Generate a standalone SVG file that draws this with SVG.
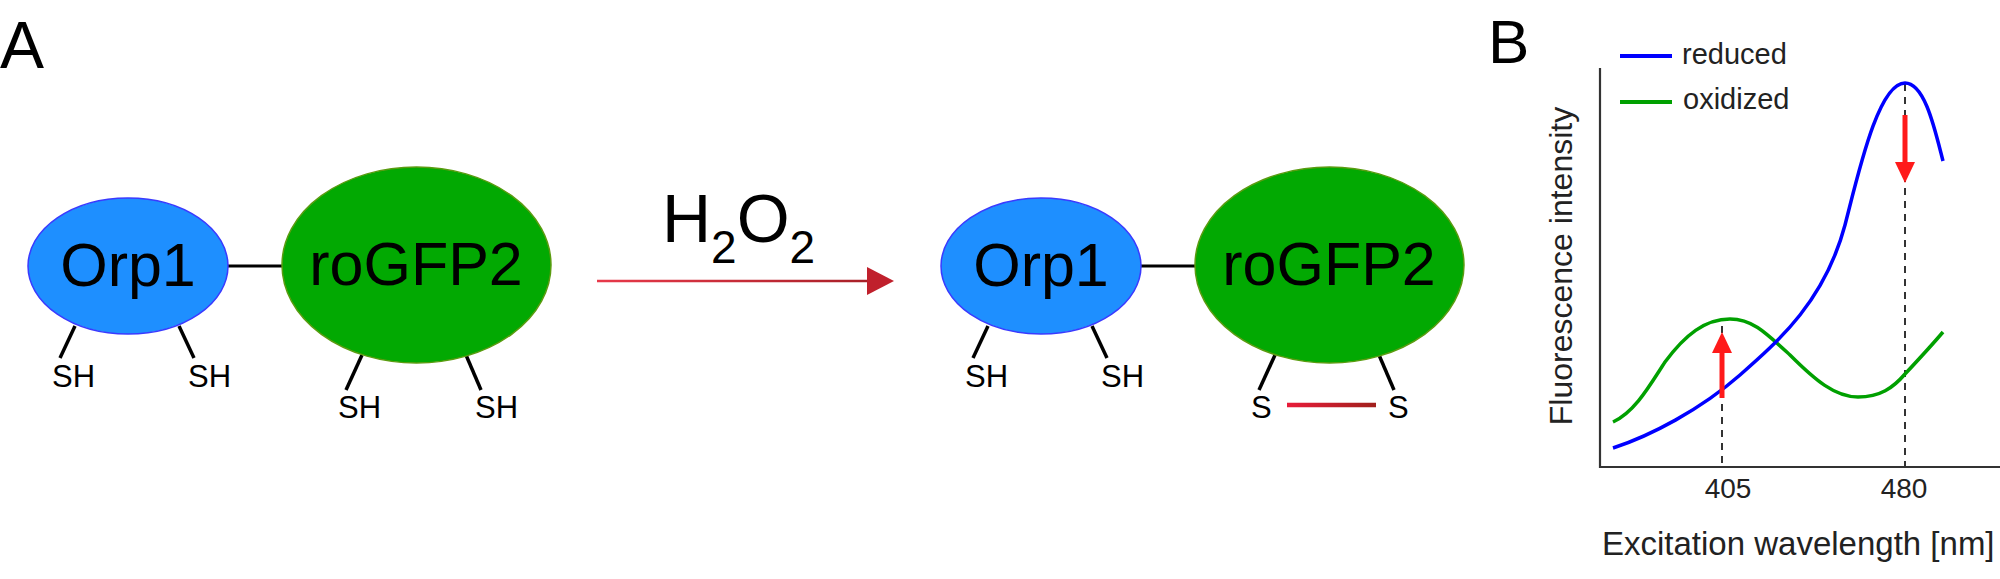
<svg xmlns="http://www.w3.org/2000/svg" width="2000" height="579" viewBox="0 0 2000 579">
<defs>
<style>
text{font-family:"Liberation Sans",Arial,sans-serif;fill:#000}
.orp{fill:#1e8fff;stroke:#3a3aff;stroke-width:1.5}
.gfp{fill:#02a902;stroke:#5a9c10;stroke-width:1.5}
.big{font-size:61px;text-anchor:middle}
.sh{font-size:31px}
.stub{stroke:#000;stroke-width:3.5;stroke-linecap:butt}
.link{stroke:#000;stroke-width:3}
.axis{stroke:#333;stroke-width:2.2;fill:none}
.dash{stroke:#333;stroke-width:2;stroke-dasharray:7,6;fill:none}
.curve{fill:none;stroke-width:3.5}
.red{stroke:#ff1a1a;stroke-width:5;marker-end:url(#redhead)}
.lab{fill:#222}
</style>
<linearGradient id="rxn" gradientUnits="userSpaceOnUse" x1="597" y1="0" x2="867" y2="0">
<stop offset="0" stop-color="#e8394a"/><stop offset="1" stop-color="#a82028"/>
</linearGradient>
<linearGradient id="ss" gradientUnits="userSpaceOnUse" x1="1287" y1="0" x2="1376" y2="0">
<stop offset="0" stop-color="#e81c3a"/><stop offset="1" stop-color="#a0201c"/>
</linearGradient>
<marker id="rxnhead" markerUnits="userSpaceOnUse" markerWidth="28" markerHeight="28" refX="0" refY="14" orient="auto" viewBox="0 0 28 28">
<path d="M0,0 L27,14 L0,28 z" fill="#c0202c"/>
</marker>
<marker id="redhead" markerUnits="userSpaceOnUse" markerWidth="21" markerHeight="20" refX="0" refY="10" orient="auto" viewBox="0 0 21 20">
<path d="M0,0 L21,10 L0,20 z" fill="#ff1a1a"/>
</marker>
</defs>
<rect width="2000" height="579" fill="#fff"/>

<text id="labelA" x="0" y="68" font-size="66">A</text>
<text id="labelB" x="1488" y="63" font-size="62">B</text>

<g id="connectors">
<line class="link" x1="228" y1="266" x2="283" y2="266"/>
<line class="link" x1="1140" y1="266" x2="1196" y2="266"/>
<line x1="597" y1="281" x2="867" y2="281" stroke="url(#rxn)" stroke-width="2.5" marker-end="url(#rxnhead)"/>
<line x1="1287" y1="405" x2="1376" y2="405" stroke="url(#ss)" stroke-width="4.5"/>
</g>

<g id="reagent">
<text x="662" y="242" font-size="68">H<tspan font-size="46" dy="21">2</tspan><tspan dy="-21">O</tspan><tspan font-size="46" dy="21">2</tspan></text>
</g>

<g id="orp1-reduced">
<line class="stub" x1="75" y1="326" x2="60" y2="358"/>
<line class="stub" x1="179" y1="326" x2="194" y2="358"/>
<ellipse class="orp" cx="128" cy="266" rx="100" ry="68"/>
<text class="big" x="128" y="286" font-size="60">Orp1</text>
<text class="sh" x="52" y="387">SH</text>
<text class="sh" x="188" y="387">SH</text>
</g>

<g id="rogfp2-reduced">
<line class="stub" x1="362" y1="355" x2="346" y2="390"/>
<line class="stub" x1="466" y1="355" x2="481" y2="390"/>
<ellipse class="gfp" cx="416.5" cy="265" rx="134.5" ry="98"/>
<text class="big" x="416" y="285" font-size="62">roGFP2</text>
<text class="sh" x="338" y="418">SH</text>
<text class="sh" x="475" y="418">SH</text>
</g>

<g id="orp1-oxidized">
<line class="stub" x1="988" y1="326" x2="973" y2="358"/>
<line class="stub" x1="1092" y1="326" x2="1107" y2="358"/>
<ellipse class="orp" cx="1041" cy="266" rx="100" ry="68"/>
<text class="big" x="1041" y="286" font-size="60">Orp1</text>
<text class="sh" x="965" y="387">SH</text>
<text class="sh" x="1101" y="387">SH</text>
</g>

<g id="rogfp2-oxidized">
<line class="stub" x1="1275" y1="355" x2="1259" y2="390"/>
<line class="stub" x1="1379" y1="355" x2="1394" y2="390"/>
<ellipse class="gfp" cx="1329.5" cy="265" rx="134.5" ry="98"/>
<text class="big" x="1329" y="285" font-size="62">roGFP2</text>
<text class="sh" x="1251" y="418">S</text>
<text class="sh" x="1388" y="418">S</text>
</g>

<g id="chart">
<path class="axis" d="M1600,68 L1600,467 L2000,467"/>
<line class="dash" x1="1722" y1="326" x2="1722" y2="467"/>
<line class="dash" x1="1905" y1="84" x2="1905" y2="467"/>
<path class="curve" stroke="#00a000" d="M1613,422 C1635,412 1650,385 1665,362 C1685,335 1705,319 1730,319 C1752,319 1765,332 1790,355 C1815,380 1835,397 1858,397 C1880,397 1893,388 1905,374 C1920,358 1932,345 1943,332"/>
<path class="curve" stroke="#0000ff" d="M1613,448 C1650,436 1700,410 1740,375 C1780,340 1825,300 1845,225 C1858,175 1878,83 1905,83 C1925,83 1935,130 1943,161"/>
<line class="red" x1="1722" y1="398" x2="1722" y2="353"/>
<line class="red" x1="1905" y1="115" x2="1905" y2="162"/>
<line x1="1620" y1="56" x2="1672" y2="56" stroke="#0000ff" stroke-width="4"/>
<line x1="1620" y1="102" x2="1672" y2="102" stroke="#00a000" stroke-width="4"/>
<text class="lab" x="1682" y="64" font-size="29">reduced</text>
<text class="lab" x="1683" y="109" font-size="29">oxidized</text>
<text class="lab" x="1728" y="498" font-size="28" text-anchor="middle">405</text>
<text class="lab" x="1904" y="498" font-size="28" text-anchor="middle">480</text>
<text class="lab" x="1602" y="555" font-size="33">Excitation wavelength [nm]</text>
<text class="lab" font-size="32" text-anchor="middle" transform="translate(1572,266) rotate(-90)">Fluorescence intensity</text>
</g>
</svg>
